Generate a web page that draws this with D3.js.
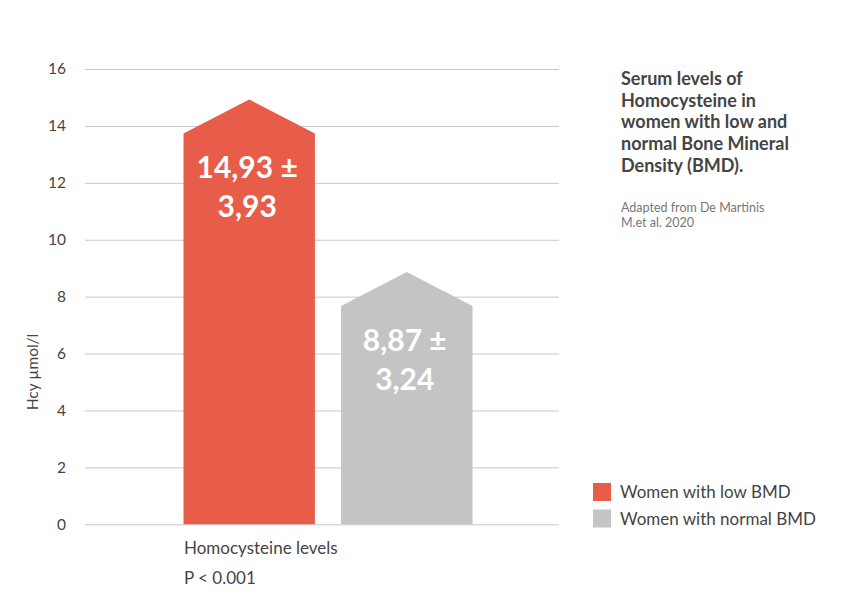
<!DOCTYPE html>
<html>
<head>
<meta charset="utf-8">
<script src="https://cdn.jsdelivr.net/npm/d3@7"></script>
<style>
  body { margin: 0; background: #fff; }
  svg { font-family: Lato, "Open Sans", sans-serif; }
</style>
</head>
<body>
<script>
// chart data
var groups = ["Women with low BMD", "Women with normal BMD"];
var means = [14.93, 8.87];
var sds = [3.93, 3.24];
var colors = ["#e85c4a", "#c4c4c4"];
var yTicks = [0, 2, 4, 6, 8, 10, 12, 14, 16];
var category = "Homocysteine levels";
var pValue = "P < 0.001";
var titleLines = ["Serum levels of", "Homocysteine in", "women with low and", "normal Bone Mineral", "Density (BMD)."];
var sourceLines = ["Adapted from De Martinis", "M.et al. 2020"];

var width = 861, height = 596;

var svg = d3.select("body").append("svg")
  .attr("width", width)
  .attr("height", height);

var y = d3.scaleLinear().domain([0, 16]).range([524.3, 69]);
var x = d3.scaleBand().domain(groups).range([183.5, 472.5]).paddingInner(0.166);

// grid + tick labels
var yAxis = svg.append("g")
  .attr("transform", "translate(85,0)")
  .call(d3.axisLeft(y).tickValues(yTicks).tickSize(-474).tickPadding(19));
yAxis.select(".domain").remove();
yAxis.selectAll(".tick line").attr("stroke", "#c8c8c8").attr("stroke-width", 1);
yAxis.selectAll(".tick text")
  .attr("fill", "#444").style("font-size", "15.5px").style("font-family", "Lato, sans-serif");

svg.append("text")
  .attr("transform", "translate(38," + 372 + ") rotate(-90)")
  .attr("text-anchor", "middle")
  .attr("fill", "#444")
  .style("font-size", "15.5px")
  .text("Hcy µmol/l");

// house shaped bars, peak at the mean
var roof = 34;
svg.selectAll("path.bar")
  .data(groups)
  .enter()
  .append("path")
  .attr("class", "bar")
  .attr("fill", function (d, i) { return colors[i]; })
  .attr("d", function (d, i) {
    var x0 = x(d), x1 = x(d) + x.bandwidth(), xm = x0 + x.bandwidth() / 2;
    var top = y(means[i]);
    return "M" + x0 + "," + y(0) + "L" + x0 + "," + (top + roof) +
      "L" + xm + "," + top + "L" + x1 + "," + (top + roof) + "L" + x1 + "," + y(0) + "Z";
  });

var fmt = function (v) { return v.toFixed(2).replace(".", ","); };
var labels = svg.selectAll("text.val")
  .data(groups)
  .enter()
  .append("text")
  .attr("class", "val")
  .attr("text-anchor", "middle")
  .attr("fill", "#fff")
  .style("font-size", "30px")
  .style("font-weight", "bold");
labels.append("tspan")
  .attr("x", function (d) { return x(d) + x.bandwidth() / 2 - 2; })
  .attr("y", function (d, i) { return y(means[i]) + 79; })
  .text(function (d, i) { return fmt(means[i]) + " ±"; });
labels.append("tspan")
  .attr("x", function (d) { return x(d) + x.bandwidth() / 2 - 2; })
  .attr("y", function (d, i) { return y(means[i]) + 118; })
  .text(function (d, i) { return fmt(sds[i]); });

// category label under the bars
svg.append("text")
  .attr("x", 184).attr("y", 554)
  .attr("fill", "#444").style("font-size", "17px")
  .text(category);
svg.append("text")
  .attr("x", 184).attr("y", 584)
  .attr("fill", "#444").style("font-size", "17px")
  .text(pValue);

// title block
svg.append("text")
  .attr("fill", "#444")
  .style("font-size", "18px")
  .style("font-weight", "bold")
  .selectAll("tspan")
  .data(titleLines)
  .enter()
  .append("tspan")
  .attr("x", 621)
  .attr("y", function (d, i) { return 85 + i * 21.7; })
  .text(function (d) { return d; });

svg.append("text")
  .attr("fill", "#777")
  .style("font-size", "12.5px")
  .selectAll("tspan")
  .data(sourceLines)
  .enter()
  .append("tspan")
  .attr("x", 621)
  .attr("y", function (d, i) { return 212 + i * 15; })
  .text(function (d) { return d; });

// legend
var legend = svg.selectAll("g.leg")
  .data(groups)
  .enter()
  .append("g")
  .attr("class", "leg")
  .attr("transform", function (d, i) { return "translate(593," + (483 + i * 26.5) + ")"; });
legend.append("rect")
  .attr("width", 18).attr("height", 18)
  .attr("fill", function (d, i) { return colors[i]; });
legend.append("text")
  .attr("x", 27).attr("y", 15)
  .attr("fill", "#444").style("font-size", "17px")
  .text(function (d) { return d; });
</script>
</body>
</html>
